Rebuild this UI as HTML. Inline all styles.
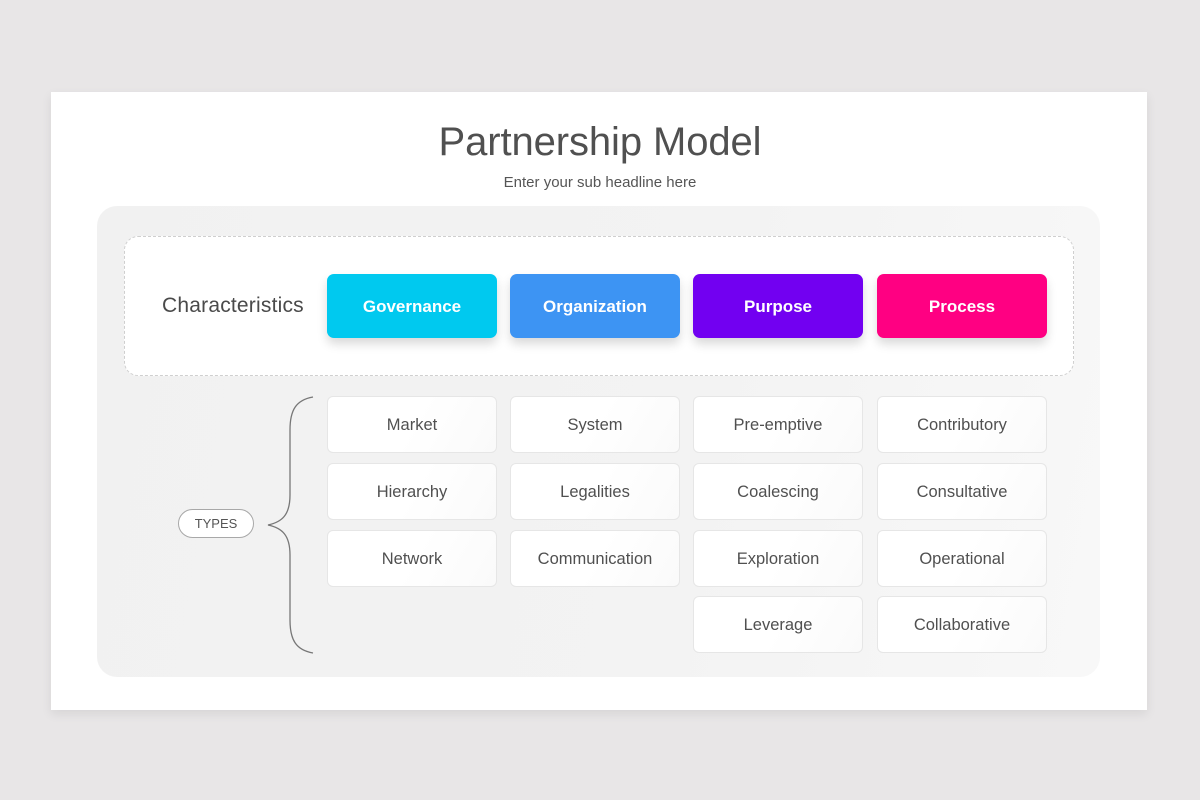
<!DOCTYPE html>
<html><head><meta charset="utf-8"><style>
*{margin:0;padding:0;box-sizing:border-box}
body{width:1200px;height:800px;background:#e8e6e7;position:relative;overflow:hidden;font-family:"Liberation Sans",Arial,sans-serif}
.slide{position:absolute;left:51px;top:92px;width:1096px;height:618px;background:#fff;box-shadow:0 4px 10px rgba(0,0,0,0.08)}
.title{position:absolute;left:0;width:1200px;top:120px;text-align:center;font-size:40px;color:#505050;letter-spacing:-0.1px}
.sub{position:absolute;left:0;width:1200px;top:174px;text-align:center;font-size:15px;color:#555}
.panel{position:absolute;left:97px;top:206px;width:1003px;height:471px;border-radius:20px;background:linear-gradient(100deg,#f1f1f1 0%,#f3f3f3 60%,#f8f8f8 100%)}
.dash{position:absolute;left:124px;top:236px;width:950px;height:140px;border:1.5px dashed #cfcfcf;border-radius:14px;background:#fff}
.char{position:absolute;left:162px;top:294px;font-size:21px;color:#4a4a4a;letter-spacing:0.2px}
.btn{position:absolute;top:274px;width:170px;height:64px;border-radius:7px;color:#fff;font-weight:bold;font-size:17px;text-align:center;line-height:65px;box-shadow:0 6px 10px rgba(0,0,0,0.15)}
.cell{position:absolute;width:170px;height:57px;border:1px solid #e6e6e6;border-radius:6px;background:linear-gradient(120deg,#ffffff 0%,#ffffff 50%,#fafafa 100%);text-align:center;line-height:56px;font-size:16.5px;color:#505050}
.pill{position:absolute;left:178px;top:509px;width:76px;height:29px;border:1px solid #a8a8a8;border-radius:15px;background:#fff;text-align:center;line-height:28px;font-size:13px;color:#555}
</style></head><body>
<div class="slide"></div>
<div class="title">Partnership Model</div>
<div class="sub">Enter your sub headline here</div>
<div class="panel"></div>
<div class="dash"></div>
<div class="char">Characteristics</div>
<div class="btn" style="left:327px;background:#00c9ef">Governance</div>
<div class="btn" style="left:510px;background:#3d94f3">Organization</div>
<div class="btn" style="left:693px;background:#7200f1">Purpose</div>
<div class="btn" style="left:877px;background:#ff0082">Process</div>

<div class="cell" style="left:327px;top:396px">Market</div>
<div class="cell" style="left:510px;top:396px">System</div>
<div class="cell" style="left:693px;top:396px">Pre-emptive</div>
<div class="cell" style="left:877px;top:396px">Contributory</div>

<div class="cell" style="left:327px;top:463px">Hierarchy</div>
<div class="cell" style="left:510px;top:463px">Legalities</div>
<div class="cell" style="left:693px;top:463px">Coalescing</div>
<div class="cell" style="left:877px;top:463px">Consultative</div>

<div class="cell" style="left:327px;top:530px">Network</div>
<div class="cell" style="left:510px;top:530px">Communication</div>
<div class="cell" style="left:693px;top:530px">Exploration</div>
<div class="cell" style="left:877px;top:530px">Operational</div>

<div class="cell" style="left:693px;top:596px">Leverage</div>
<div class="cell" style="left:877px;top:596px">Collaborative</div>

<svg style="position:absolute;left:0;top:0" width="1200" height="800">
<path d="M313 397 C296 400 290 410 290 430 L290 495 C290 515 282 522 268 525 C282 528 290 535 290 555 L290 620 C290 640 296 650 313 653" fill="none" stroke="#777" stroke-width="1.3"/>
</svg>
<div class="pill">TYPES</div>
</body></html>
